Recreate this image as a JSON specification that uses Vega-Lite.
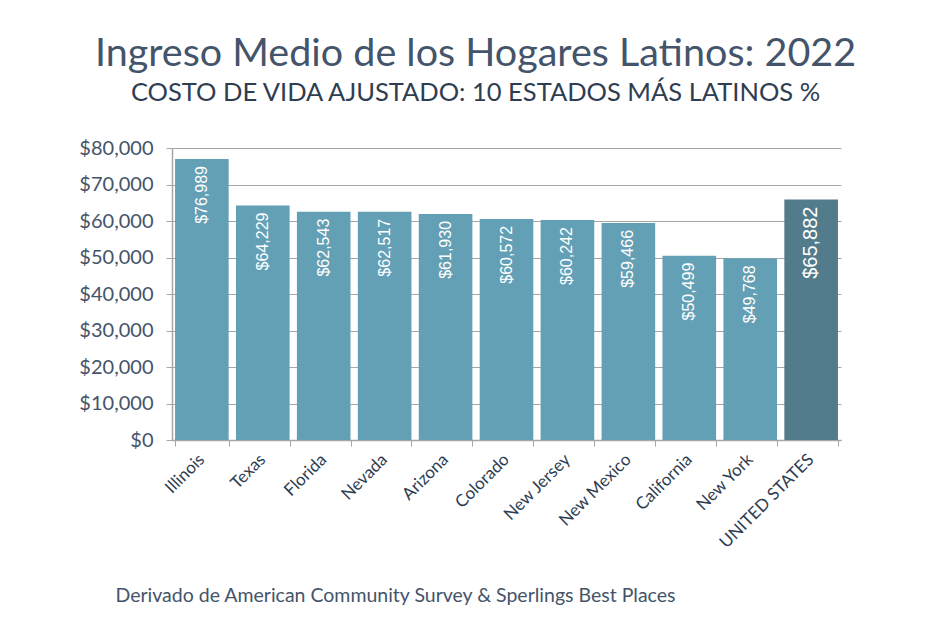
{
  "$schema": "https://vega.github.io/schema/vega-lite/v6.json",
  "width": 669,
  "height": 292,
  "autosize": {"type": "none"},
  "padding": {"left": 172, "top": 148, "right": 90, "bottom": 185},
  "background": "white",
  "config": {
    "view": {"stroke": null},
    "font": "Lato"
  },
  "title": {
    "text": "Ingreso Medio de los Hogares Latinos: 2022",
    "subtitle": "COSTO DE VIDA AJUSTADO: 10 ESTADOS MÁS LATINOS %",
    "anchor": "middle",
    "frame": "group",
    "dx": -31,
    "offset": 31,
    "font": "Lato",
    "fontWeight": "normal",
    "fontSize": 39.5,
    "color": "#44546a",
    "subtitleFont": "Lato",
    "subtitleFontSize": 25.5,
    "subtitleColor": "#2f3d52",
    "subtitlePadding": 6
  },
  "data": {
    "values": [
      {"estado": "Illinois", "ingreso": 76989, "tipo": "estado"},
      {"estado": "Texas", "ingreso": 64229, "tipo": "estado"},
      {"estado": "Florida", "ingreso": 62543, "tipo": "estado"},
      {"estado": "Nevada", "ingreso": 62517, "tipo": "estado"},
      {"estado": "Arizona", "ingreso": 61930, "tipo": "estado"},
      {"estado": "Colorado", "ingreso": 60572, "tipo": "estado"},
      {"estado": "New Jersey", "ingreso": 60242, "tipo": "estado"},
      {"estado": "New Mexico", "ingreso": 59466, "tipo": "estado"},
      {"estado": "California", "ingreso": 50499, "tipo": "estado"},
      {"estado": "New York", "ingreso": 49768, "tipo": "estado"},
      {"estado": "UNITED STATES", "ingreso": 65882, "tipo": "nacional"}
    ]
  },
  "encoding": {
    "x": {
      "field": "estado",
      "type": "nominal",
      "sort": null,
      "scale": {"paddingInner": 0.12, "paddingOuter": 0.05},
      "axis": {
        "title": "Derivado de American Community Survey & Sperlings Best Places",
        "titleFont": "Lato",
        "titleFontSize": 19.5,
        "titleFontWeight": "normal",
        "titleColor": "#44546a",
        "titleAnchor": "start",
        "titleAlign": "left",
        "titleBaseline": "alphabetic",
        "titleX": -57,
        "titleY": 161,
        "labelAngle": -45,
        "labelFont": "Lato",
        "labelFontSize": 17,
        "labelColor": "#2f3d52",
        "labelPadding": 5,
        "labelOffset": -6,
        "tickBand": "extent",
        "tickSize": 6,
        "tickColor": "#a6a6a6",
        "domainColor": "#a6a6a6",
        "domainWidth": 1.5
      }
    },
    "y": {
      "field": "ingreso",
      "type": "quantitative",
      "scale": {"domain": [0, 80000], "nice": false},
      "axis": {
        "title": null,
        "values": [0, 10000, 20000, 30000, 40000, 50000, 60000, 70000, 80000],
        "format": "$,.0f",
        "labelFont": "Lato",
        "labelFontSize": 20,
        "labelColor": "#44546a",
        "labelPadding": 13,
        "tickSize": 6,
        "tickColor": "#a6a6a6",
        "domainColor": "#a6a6a6",
        "domainWidth": 1.5,
        "grid": true,
        "gridColor": "#a6a6a6",
        "gridWidth": 1.2
      }
    }
  },
  "layer": [
    {
      "mark": {"type": "bar"},
      "encoding": {
        "color": {
          "field": "tipo",
          "type": "nominal",
          "scale": {"domain": ["estado", "nacional"], "range": ["#64a0b5", "#527b8c"]},
          "legend": null
        }
      }
    },
    {
      "mark": {"type": "text", "angle": 270, "align": "right", "baseline": "middle", "dx": -7, "font": "Liberation Sans", "color": "white"},
      "encoding": {
        "text": {"field": "ingreso", "type": "quantitative", "format": "$,.0f"},
        "size": {
          "condition": {"test": "datum.tipo === 'nacional'", "value": 20},
          "value": 16
        }
      }
    }
  ]
}
